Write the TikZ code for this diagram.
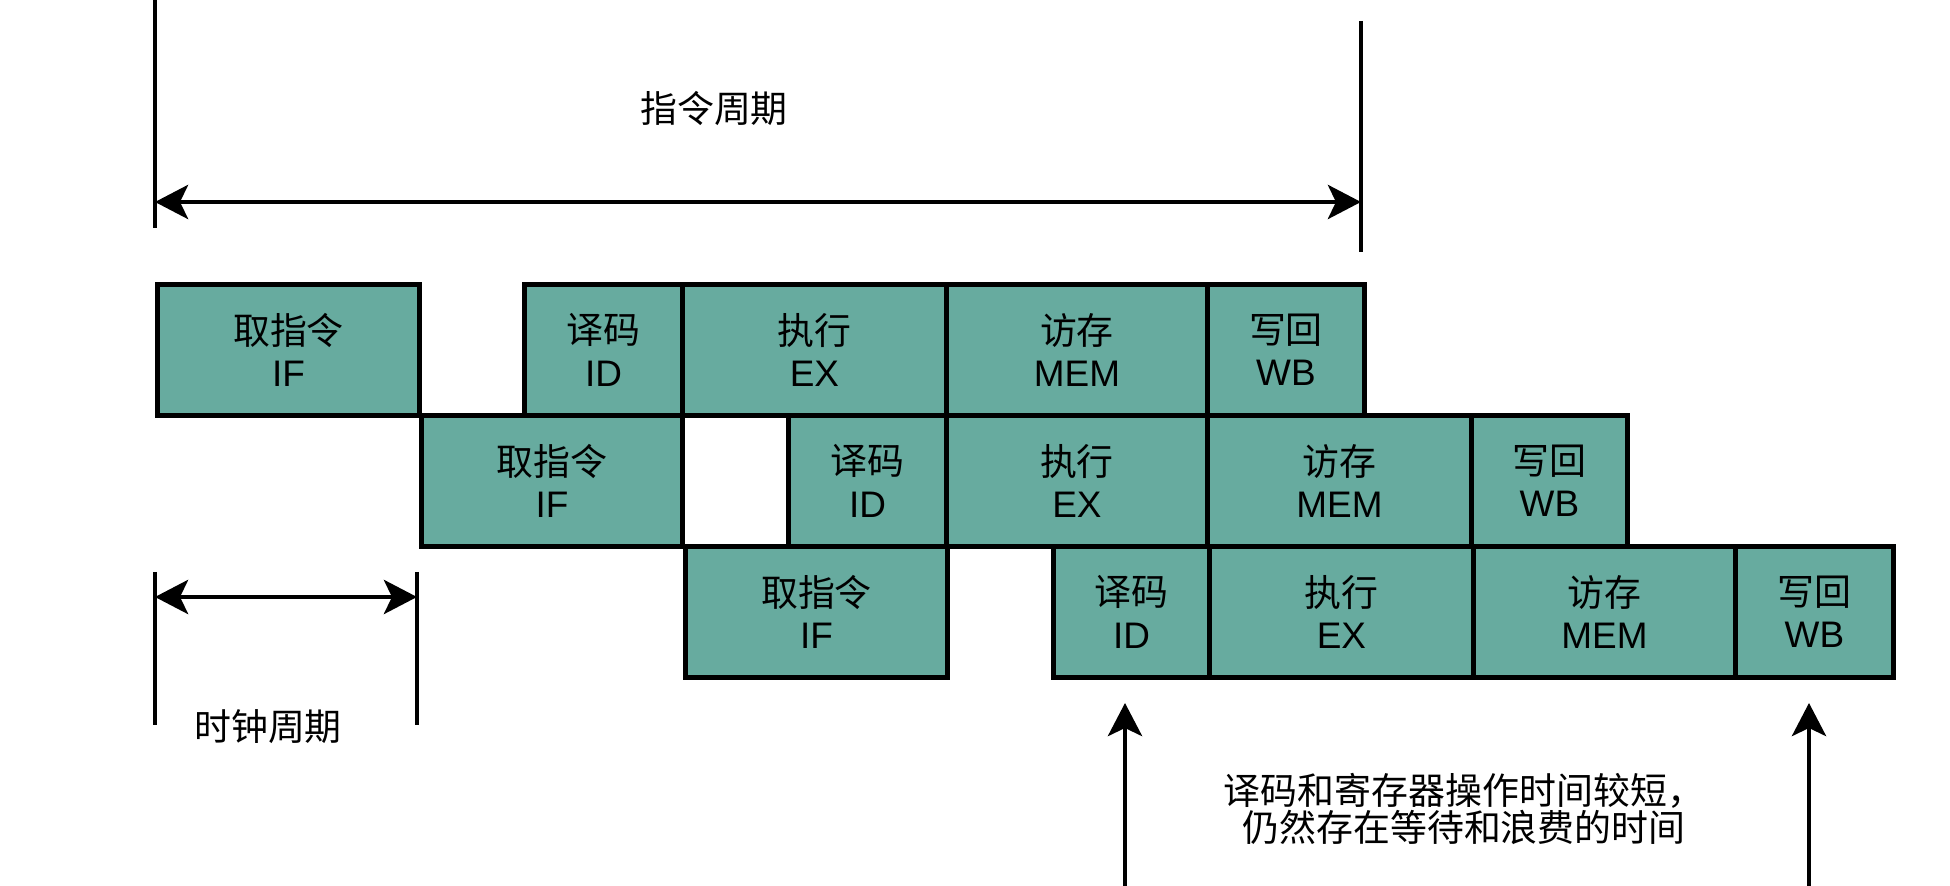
\documentclass[tikz,border=0pt]{standalone}
\usepackage{fontspec}
\setmainfont{Liberation Sans}
\newfontfamily\cjk{Noto Sans CJK SC}
\usetikzlibrary{arrows.meta}
\definecolor{stagefill}{HTML}{67AB9F}
\tikzset{
  blk/.style={draw=black, fill=stagefill, line width=1.4pt, inner sep=0pt, anchor=north west,
    align=center, minimum height=131*0.01cm, font=\fontsize{10.5}{12}\selectfont},
  dimline/.style={line width=1.4pt},
  tip/.tip={Stealth[length=0.33cm,width=0.34cm,inset=0.08cm]},
  arr/.style={dimline, -tip},
  darr/.style={dimline, tip-tip},
  lbl/.style={font=\cjk\fontsize{10.5}{10.6}\selectfont, inner sep=0pt, align=center}
}
\newcommand\stg[6]{\node[blk, minimum width=#4*0.01cm] (#1) at (#2,#3) {{\cjk #5}\\#6};}
\begin{document}
\begin{tikzpicture}[x=0.01cm, y=-0.01cm]
\useasboundingbox (0,0) rectangle (1950,886);
% row 1
\stg{a1}{155}{282}{262}{取指令}{IF}
\stg{a2}{522}{282}{158}{译码}{ID}
\stg{a3}{680}{282}{264}{执行}{EX}
\stg{a4}{944}{282}{261}{访存}{MEM}
\stg{a5}{1205}{282}{157}{写回}{WB}
% row 2
\stg{b1}{419}{413}{261}{取指令}{IF}
\stg{b2}{786}{413}{158}{译码}{ID}
\stg{b3}{944}{413}{261}{执行}{EX}
\stg{b4}{1205}{413}{264}{访存}{MEM}
\stg{b5}{1469}{413}{156}{写回}{WB}
% row 3
\stg{c1}{683}{544}{262}{取指令}{IF}
\stg{c2}{1051}{544}{156}{译码}{ID}
\stg{c3}{1207}{544}{264}{执行}{EX}
\stg{c4}{1471}{544}{262}{访存}{MEM}
\stg{c5}{1733}{544}{158}{写回}{WB}
% instruction cycle
\coordinate (tl1) at (155,0);
\coordinate (tl2) at (155,228);
\coordinate (tr1) at (1361,21);
\coordinate (tr2) at (1361,252);
\coordinate (ta) at (155,202);
\coordinate (tb) at (1361,202);
\draw[dimline] (tl1) -- (tl2);
\draw[dimline] (tr1) -- (tr2);
\draw[darr] (ta) -- (tb);
\node[lbl] (icyc) at (714,109) {指令周期};
% clock cycle
\coordinate (cl1) at (155,572);
\coordinate (cl2) at (155,725);
\coordinate (cr1) at (417,572);
\coordinate (cr2) at (417,725);
\coordinate (ca) at (155,597);
\coordinate (cb) at (417,597);
\draw[dimline] (cl1) -- (cl2);
\draw[dimline] (cr1) -- (cr2);
\draw[darr] (ca) -- (cb);
\node[lbl] (ccyc) at (268,727) {时钟周期};
% bottom arrows
\coordinate (u1s) at (1125,886);
\coordinate (u1e) at (1125,703);
\coordinate (u2s) at (1809,886);
\coordinate (u2e) at (1809,703);
\draw[arr] (u1s) -- (u1e);
\draw[arr] (u2s) -- (u2e);
\node[lbl] (note) at (1464,809) {译码和寄存器操作时间较短，\\ 仍然存在等待和浪费的时间};
\end{tikzpicture}
\end{document}
